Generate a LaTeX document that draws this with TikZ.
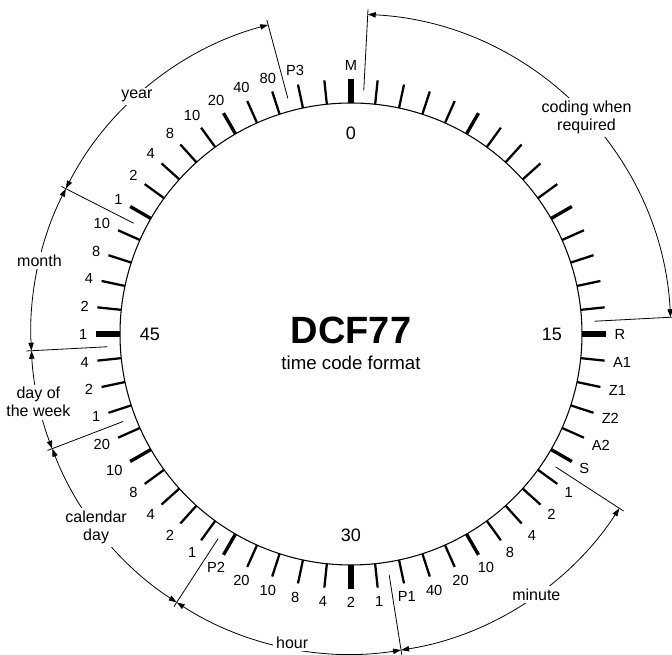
\documentclass[tikz,border=0pt]{standalone}
\usepackage{fontspec}
\setmainfont{Liberation Sans}
\usetikzlibrary{arrows.meta}

\begin{document}
\begin{tikzpicture}[
  x=0.75pt, y=0.75pt,
  bitlbl/.style={font=\fontsize{11}{12}\selectfont, inner sep=1pt},
  secnum/.style={font=\fontsize{13.5}{15}\selectfont},
  grplbl/.style={font=\fontsize{12}{13.5}\selectfont, fill=white, align=center, inner sep=2pt},
  dimline/.style={line width=0.6pt,
                  {Triangle[length=6pt,width=4pt]}-{Triangle[length=6pt,width=4pt]}},
  extline/.style={line width=0.6pt},
]
\useasboundingbox (-351,-321) rectangle (321,334);

% ---------------- the dial ------------------------------------------
\draw[line width=0.8pt] (0,0) circle[radius=231];

\foreach \b in {0,...,59}{
  \pgfmathtruncatemacro\m{mod(\b,5)}
  \pgfmathtruncatemacro\q{mod(\b,15)}
  \pgfmathsetmacro\a{90-6*\b}
  \ifnum\q=0 \def\w{5.2pt}\else\ifnum\m=0 \def\w{2.5pt}\else\def\w{1.7pt}\fi\fi
  \draw[line width=\w] (\a:231) -- (\a:255);
}

\foreach \b/\t in {0/M,15/R,16/A1,17/Z1,18/Z2,19/A2,20/S,
                   21/1,22/2,23/4,24/8,25/10,26/20,27/40,28/P1,
                   29/1,30/2,31/4,32/8,33/10,34/20,35/P2,
                   36/1,37/2,38/4,39/8,40/10,41/20,
                   42/1,43/2,44/4,
                   45/1,46/2,47/4,48/8,49/10,
                   50/1,51/2,52/4,53/8,54/10,55/20,56/40,57/80,58/P3}{
  \pgfmathsetmacro\a{90-6*\b}
  \pgfmathtruncatemacro\an{mod(270-6*\b+360,360)}
  \node[bitlbl, anchor=\an] (bit\b) at (\a:262) {\t};
}

\foreach \b in {0,15,30,45}{
  \pgfmathsetmacro\a{90-6*\b}
  \node[secnum] (sec\b) at (\a:201) {\b};
}

\node[font=\fontsize{28.5}{30}\selectfont\bfseries] (title) at (0,4) {DCF77};
\node[font=\fontsize{14}{16}\selectfont] (subtitle) at (0,-29) {time code format};

% ---------------- dimension lines -----------------------------------
\foreach \b [count=\i] in {0.5,14.5,20.5,28.5,35.5,41.5,44.5,49.5,57.5}{
  \pgfmathsetmacro\a{90-6*\b}
  \coordinate (ein\i) at (\a:244);
  \coordinate (eout\i) at (\a:325);
  \draw[extline] (ein\i) -- (eout\i);
}

\foreach \s/\e [count=\i] in {0.5/14.5,20.5/28.5,28.5/35.5,35.5/41.5,
                             41.5/44.5,44.5/49.5,49.5/57.5}{
  \pgfmathsetmacro\sa{90-6*\s}
  \pgfmathsetmacro\ea{90-6*\e}
  \coordinate (dim\i) at (\sa:320);
  \draw[dimline] (dim\i) arc[start angle=\sa, end angle=\ea, radius=320];
}

\foreach \b/\r/\t/\n in {7.9/320/{coding when\\required}/coding,
                         24.1/320/minute/minute,
                         31.8/314/hour/hour,
                         38.8/320/{calendar\\day}/calday,
                         42.95/320/{day of\\the week}/weekday,
                         47.2/320/month/month,
                         53.0/320/year/year}{
  \pgfmathsetmacro\a{90-6*\b}
  \node[grplbl] (\n) at (\a:\r) {\t};
}

\end{tikzpicture}
\end{document}
